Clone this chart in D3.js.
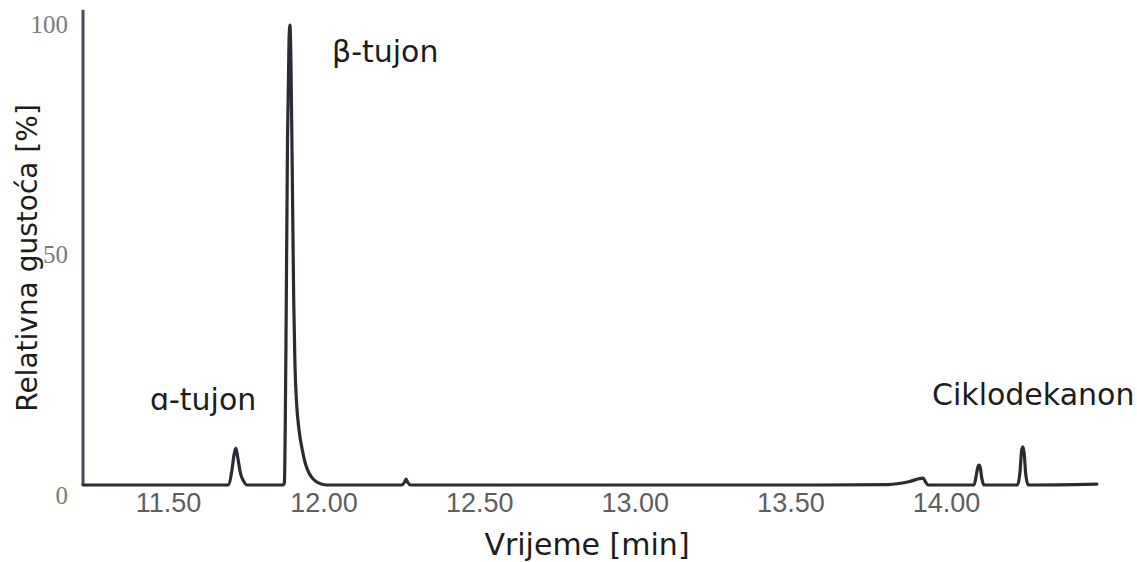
<!DOCTYPE html>
<html>
<head>
<meta charset="utf-8">
<script src="https://cdn.jsdelivr.net/npm/d3@7"></script>
<style>
  html, body { margin: 0; padding: 0; background: #fff; }
  svg { display: block; }
</style>
</head>
<body>
<svg id="chart" width="1137" height="562"></svg>
<script>
// Trace: retention time [min] and relative density [%]
const times = [11.227, 11.600, 11.693, 11.706, 11.712, 11.718, 11.724, 11.733, 11.745, 11.754,
  11.870, 11.874, 11.879, 11.884, 11.889, 11.892, 11.895, 11.899, 11.904, 11.908,
  11.913, 11.922, 11.932, 11.942, 11.954, 11.968, 11.985, 12.010,
  12.250, 12.260, 12.265, 12.270, 12.280,
  13.600, 13.814, 13.880, 13.926, 13.935, 13.942,
  14.090, 14.097, 14.102, 14.106, 14.110, 14.115, 14.122,
  14.230, 14.238, 14.243, 14.247, 14.251, 14.256, 14.264, 14.485];
const values = [0, 0, 0, 3.5, 6.5, 8.0, 6.0, 2.5, 0.6, 0,
  0, 0.5, 30, 75, 97, 100, 92, 70, 40, 26,
  18, 11.5, 7.5, 4.5, 2.5, 1.2, 0.4, 0,
  0, 0.6, 1.3, 0.6, 0,
  0, 0.1, 0.7, 1.5, 0.6, 0,
  0, 2.0, 3.8, 4.3, 3.8, 1.5, 0,
  0, 3.0, 7.5, 8.3, 7.0, 2.5, 0, 0.2];

const xTicks = [11.5, 12.0, 12.5, 13.0, 13.5, 14.0];
const xTickLabels = ["11.50", "12.00", "12.50", "13.00", "13.50", "14.00"];
const yTicks = [0, 50, 100];
const yTickLabels = ["0", "50", "100"];

const peakNames = ["ɑ-tujon", "β-tujon", "Ciklodekanon"];
const peakLabelTimes = [11.442, 12.027, 13.955];
const peakLabelValues = [16.3, 92.0, 17.4];

const xTitle = "Vrijeme [min]";
const yTitle = "Relativna gustoća [%]";

const svg = d3.select("#chart");
const x = d3.scaleLinear().domain([11.5, 14.0]).range([168, 946]);
const y = d3.scaleLinear().domain([0, 100]).range([485, 25]);

// Y axis line
svg.append("line")
  .attr("x1", 83).attr("x2", 83)
  .attr("y1", y(103.3)).attr("y2", y(0))
  .attr("stroke", "#4b4b5c").attr("stroke-width", 3);

// Y tick labels (serif, gray)
const yAxis = d3.axisLeft(y).tickValues(yTicks)
  .tickFormat((d, i) => yTickLabels[i]).tickSize(0).tickPadding(0);
const gy = svg.append("g").attr("transform", "translate(68,0)").call(yAxis);
gy.select(".domain").remove();
gy.selectAll("text")
  .attr("font-family", "'Liberation Serif', 'DejaVu Serif', serif")
  .attr("font-size", 25)
  .attr("fill", "#7a7a7a")
  .attr("dy", d => d === 0 ? "0.72em" : "0.3em");

// X tick labels (sans, gray)
const xAxis = d3.axisBottom(x).tickValues(xTicks)
  .tickFormat((d, i) => xTickLabels[i]).tickSize(0).tickPadding(0);
const gx = svg.append("g").attr("transform", "translate(0,493)").call(xAxis);
gx.select(".domain").remove();
gx.selectAll("text")
  .attr("font-family", "'Liberation Sans', Arial, sans-serif")
  .attr("font-size", 27)
  .attr("fill", "#5e5e5e")
  .attr("dy", "0.72em");

// Trace
const data = times.map((t, i) => [t, values[i]]);
const line = d3.line().x(d => x(d[0])).y(d => y(d[1])).curve(d3.curveMonotoneX);
svg.append("path")
  .datum(data)
  .attr("d", line)
  .attr("fill", "none")
  .attr("stroke", "#2b2b33")
  .attr("stroke-width", 3.2)
  .attr("stroke-linejoin", "round")
  .attr("stroke-linecap", "round");

// Peak labels
svg.selectAll("text.peak")
  .data(peakNames)
  .enter().append("text")
  .attr("class", "peak")
  .attr("x", (d, i) => x(peakLabelTimes[i]))
  .attr("y", (d, i) => y(peakLabelValues[i]))
  .attr("font-family", "'DejaVu Sans', Verdana, sans-serif")
  .attr("font-size", 30)
  .attr("fill", "#1c1c1c")
  .text(d => d);

// Axis titles
svg.append("text")
  .attr("x", 587).attr("y", 555)
  .attr("text-anchor", "middle")
  .attr("font-family", "'DejaVu Sans', Verdana, sans-serif")
  .attr("font-size", 30)
  .attr("fill", "#1c1c1c")
  .text(xTitle);

svg.append("text")
  .attr("transform", "translate(37,258) rotate(-90)")
  .attr("text-anchor", "middle")
  .attr("font-family", "'DejaVu Sans', Verdana, sans-serif")
  .attr("font-size", 28)
  .attr("fill", "#1c1c1c")
  .text(yTitle);
</script>
</body>
</html>
